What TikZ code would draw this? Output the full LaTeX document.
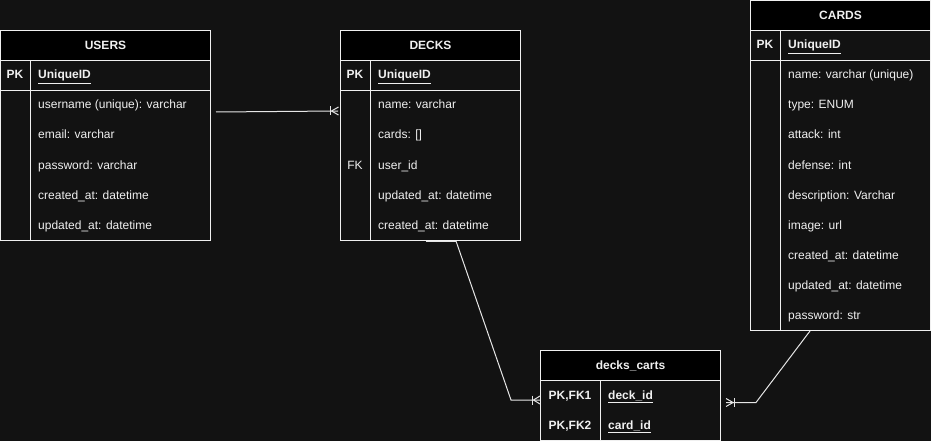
\documentclass[tikz,border=0pt]{standalone}
\usepackage{fontspec}
\setmainfont{Liberation Sans}
\definecolor{bg}{HTML}{121212}
\definecolor{fg}{HTML}{F0F0F0}
\definecolor{ln}{HTML}{E6E6E6}
\begin{document}
\begin{tikzpicture}[x=1pt,y=-1pt,
  tbl/.style={draw=fg,line width=1pt,fill=bg,inner sep=0,outer sep=0,anchor=north west},
  hdr/.style={draw=fg,line width=1pt,fill=black,inner sep=0,outer sep=0,anchor=north west,
    text=fg,font=\fontsize{12}{14}\selectfont\bfseries},
  fld/.style={inner sep=0,anchor=base west,text=fg,font=\fontsize{12}{14}\selectfont},
  keyc/.style={inner sep=0,anchor=base,text=fg,font=\fontsize{12}{14}\selectfont\bfseries},
  keyf/.style={inner sep=0,anchor=base west,text=fg,font=\fontsize{12}{14}\selectfont\bfseries},
  sep/.style={draw=fg,line width=1pt},
  conn/.style={draw=ln,line width=1pt},
]
\fill[bg] (0,0) rectangle (931,441);
\useasboundingbox (0,0) rectangle (931,441);

% ---------- USERS ----------
\node[tbl,minimum width=210,minimum height=210] (users) at (0.5,30.5) {};
\node[hdr,minimum width=210,minimum height=30] (usersh) at (0.5,30.5) {USERS};
\draw[sep] (0.5,90.5) -- (210.5,90.5);
\draw[sep] (30.5,60.5) -- (30.5,240.5);
\node[keyc] (upk) at (15,79) {PK};
\node[keyf] (uid) at (38,79) {\underline{UniqueID}};
\foreach \t [count=\i] in {username (unique): varchar, email: varchar, password: varchar, created\_at: datetime, updated\_at: datetime}
  \node[fld] (u\i) at (38,79+30*\i) {\t};

% ---------- DECKS ----------
\node[tbl,minimum width=180,minimum height=210] (decks) at (340.5,30.5) {};
\node[hdr,minimum width=180,minimum height=30] (decksh) at (340.5,30.5) {DECKS};
\draw[sep] (340.5,90.5) -- (520.5,90.5);
\draw[sep] (370.5,60.5) -- (370.5,240.5);
\node[keyc] (dpk) at (355,79) {PK};
\node[keyf] (did) at (378,79) {\underline{UniqueID}};
\foreach \t [count=\i] in {name: varchar, cards: [], user\_id, updated\_at: datetime, created\_at: datetime}
  \node[fld] (d\i) at (378,79+30*\i) {\t};
\node[fld,anchor=base] (dfk) at (355,169) {FK};

% ---------- CARDS ----------
\node[tbl,minimum width=180,minimum height=330] (cards) at (750.5,0.5) {};
\node[hdr,minimum width=180,minimum height=30] (cardsh) at (750.5,0.5) {CARDS};
\draw[sep] (750.5,60.5) -- (930.5,60.5);
\draw[sep] (780.5,30.5) -- (780.5,330.5);
\node[keyc] (cpk) at (765,49) {PK};
\node[keyf] (cid) at (788,49) {\underline{UniqueID}};
\foreach \t [count=\i] in {name: varchar (unique), type: ENUM, attack: int, defense: int, description: Varchar, image: url, created\_at: datetime, updated\_at: datetime, password: str}
  \node[fld] (c\i) at (788,49+30*\i) {\t};

% ---------- decks_carts ----------
\node[tbl,minimum width=180,minimum height=90] (dc) at (540.5,350.5) {};
\node[hdr,minimum width=180,minimum height=30] (dch) at (540.5,350.5) {decks\_carts};
\draw[sep] (600.5,380.5) -- (600.5,440.5);
\node[keyc] (dck1) at (570,399) {PK,FK1};
\node[keyf] (dcf1) at (608,399) {\underline{deck\_id}};
\node[keyc] (dck2) at (570,429) {PK,FK2};
\node[keyf] (dcf2) at (608,429) {\underline{card\_id}};

% ---------- connectors ----------
% USERS -> DECKS
\coordinate (a1) at (216,112);
\coordinate (a2) at (338,111);
\draw[conn] (a1) -- (a2);
\draw[conn] (330,106.5) -- (330,115.5);
\draw[conn] (331.5,111) -- (338.5,107) (331.5,111) -- (338.5,115);

% DECKS -> decks_carts
\coordinate (b0) at (426,241);
\coordinate (b1) at (456,241);
\coordinate (b2) at (511,400);
\coordinate (b3) at (540,400);
\draw[conn] (b0) -- (b1);
\draw[conn] (b1) -- (b2) -- (b3);
\draw[conn] (532.5,395.5) -- (532.5,404.5);
\draw[conn] (533.5,400) -- (540,396) (533.5,400) -- (540,404);

% CARDS -> decks_carts
\coordinate (e1) at (810,331);
\coordinate (e2) at (756,402.5);
\coordinate (e3) at (726,402.5);
\draw[conn] (e1) -- (e2) -- (e3);
\draw[conn] (734,398) -- (734,407);
\draw[conn] (733,402.5) -- (726,398.5) (733,402.5) -- (726,406.5);
\end{tikzpicture}
\end{document}
